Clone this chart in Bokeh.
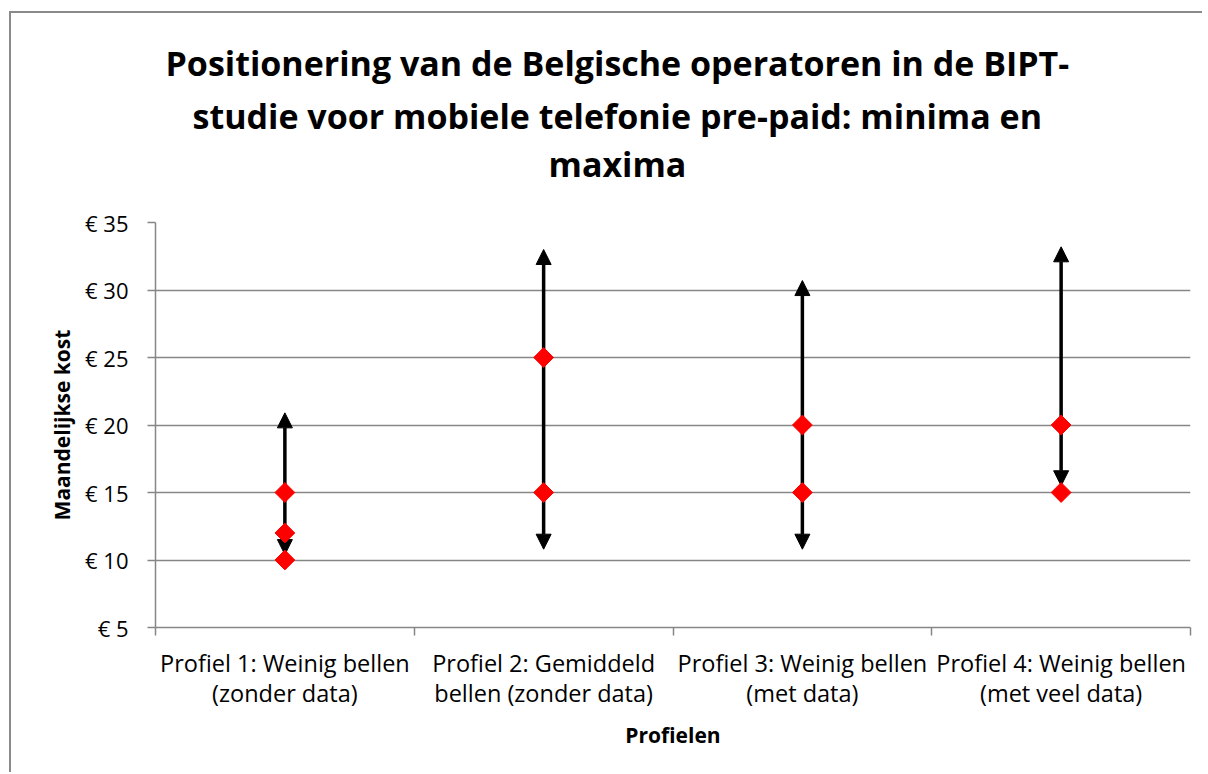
import numpy as np
from bokeh.plotting import figure
from bokeh.models import Range1d, FixedTicker, Arrow, NormalHead, ColumnDataSource, Title
from bokeh.embed import file_html
from bokeh.resources import INLINE

# ---- data ----
categories = [
    "Profiel 1: Weinig bellen\n(zonder data)",
    "Profiel 2: Gemiddeld\nbellen (zonder data)",
    "Profiel 3: Weinig bellen\n(met data)",
    "Profiel 4: Weinig bellen\n(met veel data)",
]
arrow_top = [20.9, 33.0, 30.7, 33.2]
arrow_bottom = [10.4, 10.8, 10.8, 15.5]
point_category = [0, 0, 0, 1, 1, 2, 2, 3, 3]
point_values = [15, 12, 10, 25, 15, 20, 15, 20, 15]
y_ticks = [5, 10, 15, 20, 25, 30, 35]
y_tick_labels = ["€ 5", "€ 10", "€ 15", "€ 20", "€ 25", "€ 30", "€ 35"]
title_lines = [
    "Positionering van de Belgische operatoren in de BIPT-",
    "studie voor mobiele telefonie pre-paid: minima en",
    "maxima",
]
x_title = "Profielen"
y_title = "Maandelijkse kost"

FONT = "Open Sans"
GRID = "#868686"

p = figure(width=1193, height=761, output_backend="svg", toolbar_location=None,
           x_range=Range1d(0, len(categories)), y_range=Range1d(5, 35),
           min_border_left=144, min_border_right=14, min_border_top=209,
           min_border_bottom=147, background_fill_color="white",
           border_fill_color="white", outline_line_color=None)
p.styles = {"margin-left": "11px", "margin-top": "13px",
            "box-shadow": "-2px -2px 0px 0px #8a8a8a"}

# spacer between frame and the title block
p.add_layout(Title(text=" ", text_font_size="1px", standoff=33), "above")
# title lines, nearest line first; left aligned with offsets so they centre near x=616
title_offsets = [393, 37, 10]
title_standoffs = [0, 0, 10]
for line, off, so in zip(reversed(title_lines), title_offsets, title_standoffs):
    p.add_layout(Title(text=line, align="left", offset=off, standoff=so,
                       text_font=FONT, text_font_size="34px", text_font_style="bold",
                       text_color="black"), "above")

# grid
p.xgrid.visible = False
p.ygrid.ticker = FixedTicker(ticks=y_ticks)
p.ygrid.grid_line_color = GRID
p.ygrid.grid_line_width = 1.5

# x axis
centers = [i + 0.5 for i in range(len(categories))]
xa = p.xaxis[0]
xa.ticker = FixedTicker(ticks=centers, minor_ticks=list(range(len(categories) + 1)))
xa.major_label_overrides = {c: lab for c, lab in zip(centers, categories)}
xa.major_tick_out = 0
xa.major_tick_in = 0
xa.minor_tick_out = 8
xa.minor_tick_in = 0
xa.minor_tick_line_color = GRID
xa.minor_tick_line_width = 1.5
xa.axis_line_color = GRID
xa.axis_line_width = 1.5
xa.major_label_text_font = FONT
xa.major_label_text_font_size = "23.5px"
xa.major_label_text_line_height = 0.94
xa.major_label_text_color = "black"
xa.major_label_standoff = 11
xa.axis_label = x_title
xa.axis_label_text_font = FONT
xa.axis_label_text_font_size = "21px"
xa.axis_label_text_font_style = "bold"
xa.axis_label_text_color = "black"
xa.axis_label_standoff = 9

# y axis
ya = p.yaxis[0]
ya.ticker = FixedTicker(ticks=y_ticks)
ya.major_label_overrides = {v: s for v, s in zip(y_ticks, y_tick_labels)}
ya.major_tick_out = 8
ya.major_tick_in = 0
ya.major_tick_line_color = GRID
ya.major_tick_line_width = 1.5
ya.minor_tick_line_color = None
ya.axis_line_color = GRID
ya.axis_line_width = 1.5
ya.major_label_text_font = FONT
ya.major_label_text_font_size = "22px"
ya.major_label_text_color = "black"
ya.major_label_standoff = 19
ya.axis_label = y_title
ya.axis_label_text_font = FONT
ya.axis_label_text_font_size = "21px"
ya.axis_label_text_font_style = "bold"
ya.axis_label_text_color = "black"
ya.axis_label_standoff = 6

# arrows
asrc = ColumnDataSource(dict(x=centers, y0=arrow_bottom, y1=arrow_top))
arrow = Arrow(x_start="x", y_start="y0", x_end="x", y_end="y1", source=asrc,
              line_color="black", line_width=3.5, level="underlay",
              start=NormalHead(size=15, fill_color="black", line_color="black"),
              end=NormalHead(size=15, fill_color="black", line_color="black"))
p.add_layout(arrow)

# points
psrc = ColumnDataSource(dict(x=[centers[c] for c in point_category], y=point_values))
p.scatter("x", "y", source=psrc, marker="square", size=14, angle=np.pi / 4,
          fill_color="#ff0000", line_color="#ff0000")

open("out.html", "w").write(file_html(p, INLINE))
